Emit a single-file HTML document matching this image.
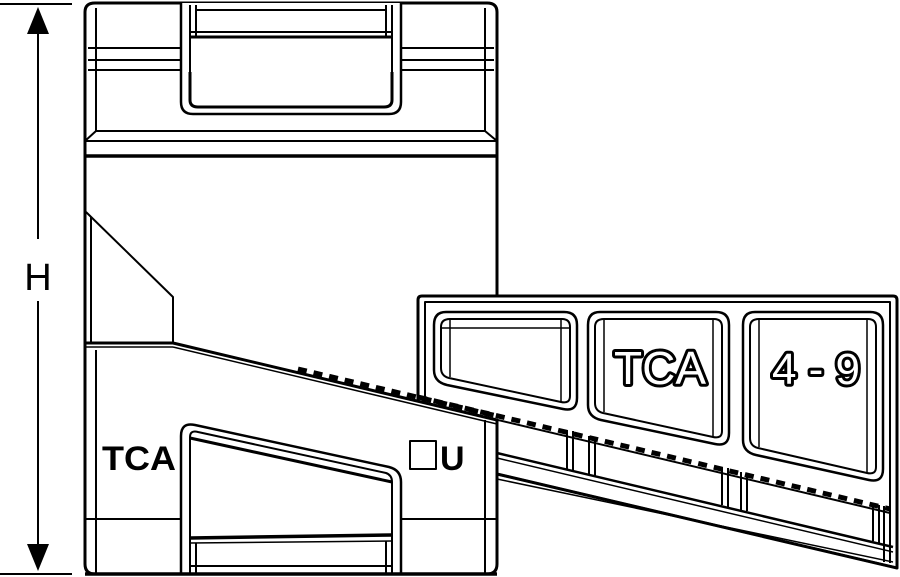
<!DOCTYPE html>
<html><head><meta charset="utf-8"><style>
html,body{margin:0;padding:0;background:#fff;width:900px;height:577px;overflow:hidden}
svg{display:block}
text{font-family:"Liberation Sans","DejaVu Sans",sans-serif;font-weight:bold}
</style></head><body>
<svg width="900" height="577" viewBox="0 0 900 577" xmlns="http://www.w3.org/2000/svg" fill="none" stroke="#000" stroke-width="2" stroke-linejoin="round">
<!-- dimension -->
<line x1="0" y1="4" x2="72" y2="4"/>
<line x1="0" y1="574" x2="72" y2="574"/>
<line x1="38" y1="20" x2="38" y2="239"/>
<line x1="38" y1="301" x2="38" y2="560"/>
<polygon points="38,7 27,34 49,34" fill="#000" stroke="none"/>
<polygon points="38,571 27,544 49,544" fill="#000" stroke="none"/>
<text x="38" y="290" font-size="38" text-anchor="middle" fill="#000" stroke="none" style="font-weight:normal">H</text>

<!-- front body upper -->
<path d="M85,343 L85,12 Q85,3 95,3 L487,3 Q497,3 497,12 L497,300" stroke-width="3" fill="#fff"/>
<line x1="96" y1="8" x2="96" y2="131"/>
<line x1="485" y1="8" x2="485" y2="131"/>
<line x1="88" y1="48" x2="181" y2="48"/><line x1="88" y1="60" x2="181" y2="60"/><line x1="88" y1="70" x2="181" y2="70"/>
<line x1="401" y1="48" x2="494" y2="48"/><line x1="401" y1="60" x2="494" y2="60"/><line x1="401" y1="70" x2="494" y2="70"/>
<line x1="96" y1="131" x2="485" y2="131"/>
<polyline points="85,141 96,131"/><polyline points="497,141 485,131"/>
<line x1="85" y1="141" x2="497" y2="141"/>
<line x1="85" y1="156" x2="497" y2="156" stroke-width="3.5"/>
<!-- top window -->
<path d="M181,3 L181,102 Q181,114 193,114 L389,114 Q401,114 401,102 L401,3" stroke-width="2.5" fill="#fff"/>
<path d="M190,72 L190,100 Q190,107 198,107 L384,107 Q392,107 392,100 L392,72" stroke-width="3"/>
<line x1="190" y1="36" x2="190" y2="100"/><line x1="392" y1="36" x2="392" y2="100"/>
<line x1="196" y1="5" x2="196" y2="36"/><line x1="386" y1="5" x2="386" y2="36"/>
<line x1="190" y1="5" x2="190" y2="36"/><line x1="392" y1="5" x2="392" y2="36"/>
<line x1="196" y1="10" x2="386" y2="10"/>
<line x1="190" y1="32" x2="392" y2="32"/>
<line x1="190" y1="37" x2="392" y2="37" stroke-width="3"/>
<!-- chamfer triangle -->
<polyline points="86,212 173,297 173,342"/>
<line x1="91" y1="217" x2="91" y2="343"/>

<!-- back panel -->
<path d="M418,404 L418,300 Q418,296 422,296 L893,296 Q897,296 897,300 L897,568 L497,474" stroke-width="3" fill="#fff"/>
<path d="M425,404 L425,302 L890,302 L890,563" />
<!-- windows -->
<g stroke-width="2.5">
<path d="M446,312 L564,312 Q577,312 577,325 L577,398 Q577,412 563,409 L447,385 Q434,382 434,370 L434,325 Q434,312 446,312Z"/>
<path d="M450,319 L562,319 Q570,319 570,327 L570,396 Q570,404 561,402 L449,378 Q441,376 441,368 L441,327 Q441,319 450,319Z" stroke-width="2"/>
<line x1="441" y1="328" x2="570" y2="328" stroke-width="1.5"/>
<line x1="450" y1="319" x2="450" y2="377" stroke-width="1.5"/>
<line x1="561" y1="319" x2="561" y2="402" stroke-width="1.5"/>

<path d="M600,312 L716,312 Q729,312 729,325 L729,433 Q729,447 715,444 L601,420 Q588,417 588,405 L588,325 Q588,312 600,312Z"/>
<path d="M604,319 L714,319 Q722,319 722,327 L722,431 Q722,439 713,437 L603,413 Q595,411 595,403 L595,327 Q595,319 604,319Z" stroke-width="2"/>
<line x1="604" y1="319" x2="604" y2="412" stroke-width="1.5"/>
<line x1="713" y1="319" x2="713" y2="437" stroke-width="1.5"/>

<path d="M755,312 L870,312 Q883,312 883,325 L883,469 Q883,483 869,480 L756,455 Q743,452 743,440 L743,325 Q743,312 755,312Z"/>
<path d="M759,319 L868,319 Q876,319 876,327 L876,467 Q876,475 867,473 L758,448 Q750,446 750,438 L750,327 Q750,319 759,319Z" stroke-width="2"/>
<line x1="759" y1="319" x2="759" y2="447" stroke-width="1.5"/>
<line x1="867" y1="319" x2="867" y2="473" stroke-width="1.5"/>
</g>
<text x="660" y="384" font-size="46" text-anchor="middle" fill="#000" stroke="#000" stroke-width="6" style="font-weight:normal">TCA</text>
<text x="660" y="384" font-size="46" text-anchor="middle" fill="#fff" stroke="none" style="font-weight:normal">TCA</text>
<text x="816" y="384" font-size="44" text-anchor="middle" fill="#000" stroke="#000" stroke-width="6" style="font-weight:normal">4 - 9</text>
<text x="816" y="384" font-size="44" text-anchor="middle" fill="#fff" stroke="none" style="font-weight:normal">4 - 9</text>
<!-- panel lower lines -->
<line x1="497" y1="453" x2="893" y2="547" stroke-width="2.5"/>
<line x1="497" y1="458" x2="893" y2="552" stroke-width="1.5"/>
<line x1="497" y1="474" x2="893" y2="567" stroke-width="2.5"/>
<line x1="497" y1="479" x2="893" y2="562" stroke-width="1.5"/>
<!-- teeth line in panel -->
<line x1="418" y1="401" x2="890" y2="513" stroke-width="2"/>
<line x1="418" y1="397" x2="890" y2="509" stroke-width="5" stroke-dasharray="9 7"/>
<!-- dividers -->
<g stroke-width="2">
<line x1="567" y1="430" x2="567" y2="469"/><line x1="573" y1="431" x2="573" y2="471"/>
<line x1="589" y1="436" x2="589" y2="474"/><line x1="595" y1="437" x2="595" y2="476"/>
<line x1="722" y1="467" x2="722" y2="505"/><line x1="728" y1="468" x2="728" y2="507"/>
<line x1="741" y1="472" x2="741" y2="510"/><line x1="747" y1="473" x2="747" y2="511"/>
<line x1="873" y1="503" x2="873" y2="541"/><line x1="879" y1="505" x2="879" y2="543"/>
<line x1="884" y1="506" x2="884" y2="562"/>
</g>

<!-- front lower block -->
<path d="M85,343 L173,343 L497,420 L497,564 Q497,574 487,574 L95,574 Q85,574 85,564 Z" fill="#fff" stroke-width="3"/>
<line x1="85" y1="347" x2="173" y2="347" stroke-width="1.5"/>
<line x1="173" y1="347" x2="497" y2="424" stroke-width="1.5"/>
<line x1="298" y1="369" x2="497" y2="416" stroke-width="5" stroke-dasharray="9 7"/>
<line x1="96" y1="350" x2="96" y2="574"/>
<line x1="485" y1="420" x2="485" y2="574"/>
<line x1="85" y1="519" x2="181" y2="519"/>
<line x1="401" y1="519" x2="497" y2="519"/>
<!-- bottom window -->
<path d="M181,574 L181,436 Q181,422 195,425 L389,467 Q401,470 401,482 L401,574" stroke-width="2.5" fill="#fff"/>
<path d="M190,505 L190,437 Q190,430 198,432 L386,473 Q392,475 392,482 L392,574" stroke-width="2"/>
<line x1="190" y1="438" x2="392" y2="482" stroke-width="3"/>
<line x1="190" y1="505" x2="190" y2="574"/>
<line x1="190" y1="538" x2="392" y2="535" stroke-width="3.5"/>
<line x1="190" y1="543" x2="392" y2="541" stroke-width="1.5"/>
<line x1="196" y1="543" x2="196" y2="574"/><line x1="386" y1="541" x2="386" y2="574"/>
<line x1="190" y1="566" x2="392" y2="566"/>
<line x1="85" y1="574" x2="497" y2="574" stroke-width="3.5"/>
<text x="102" y="470" font-size="34" fill="#000" stroke="none" textLength="74" lengthAdjust="spacingAndGlyphs">TCA</text>
<rect x="410" y="441" width="26" height="28" stroke-width="2"/>
<text x="440" y="470" font-size="34" fill="#000" stroke="none">U</text>
</svg>
</body></html>
